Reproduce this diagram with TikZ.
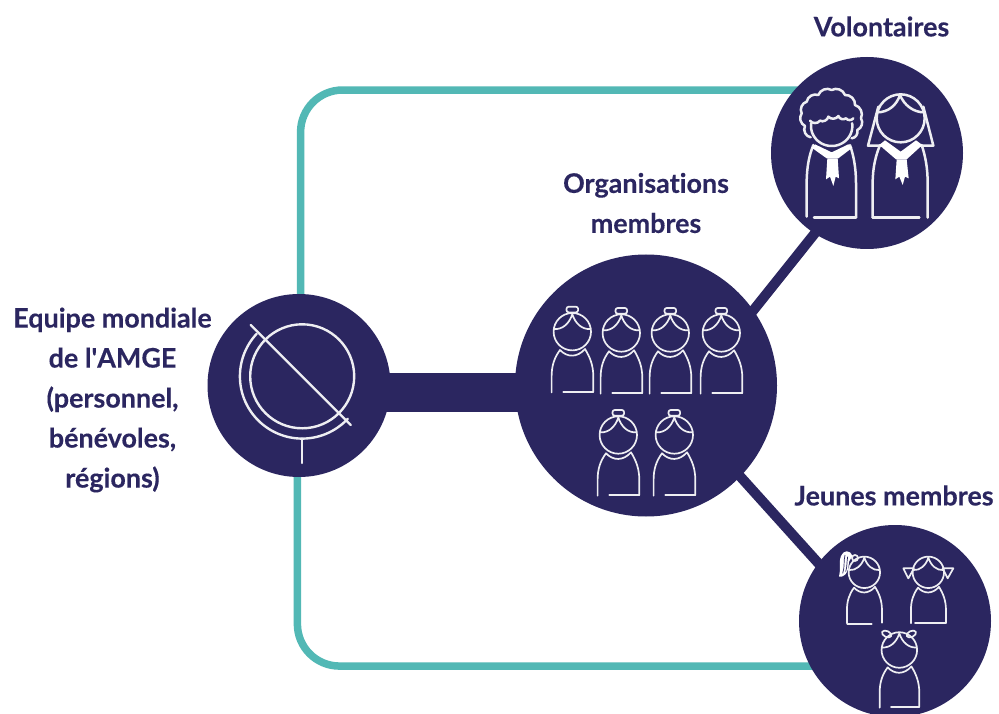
\documentclass[tikz,border=0pt]{standalone}
\usepackage{fontspec}
\setmainfont{Lato}[BoldFont={Lato Bold},BoldFeatures={FakeBold=0.25},Ligatures={NoCommon}]
\definecolor{navy}{HTML}{2B2660}
\definecolor{tealc}{HTML}{52B8B5}
\pgfdeclarelayer{bg}
\pgfsetlayers{bg,main}
\tikzset{
  disc/.style={circle,fill=navy,inner sep=0pt,outer sep=0pt,minimum size=#1},
  label text/.style={text=navy,font=\fontsize{26.9}{40}\selectfont\bfseries,align=center,inner sep=0pt},
  teal line/.style={draw=tealc,line width=7.5pt,rounded corners=42pt},
  navy line/.style={draw=navy,line width=10pt,shorten >=-4pt,shorten <=-4pt},
  bar line/.style={draw=navy,line width=39.6pt},
  icon/.style={draw=white!92!navy,line width=1.7pt,line cap=round,line join=round},
  vicon/.style={icon,line width=2.5pt},
  gicon/.style={icon,line width=2.4pt},
  kid/.pic={
    \draw[icon] (0,0) circle (18.7);
    \draw[icon] (-18,-2.7) .. controls (-10,-2) and (-3,-8) .. (0,-17.5) .. controls (3,-8) and (10,-2) .. (18,-2.7);
    \draw[icon] (-20.7,60.7) -- (-20.7,45) .. controls (-20.7,34) and (-18,26) .. (-12.3,18.3)
      .. controls (-5,26) and (5,26) .. (12.7,17.3) .. controls (18,26) and (21,34) .. (21,45) -- (21,60);
  },
  bunkid/.pic={
    \pic {kid};
    \draw[icon] (21,60) -- (-9,60);
    \draw[icon,rounded corners=2.2pt] (-5.8,-25) rectangle (5.8,-19.3);
  }
}
\begin{document}
\begin{tikzpicture}[x=1pt,y=-1pt]
\useasboundingbox (0,0) rectangle (999,714);

\node[disc=183pt] (globe) at (299,385.5) {};
\node[disc=262pt] (org) at (646,385.5) {};
\node[disc=192pt] (vol) at (867,153) {};
\node[disc=192pt] (jeu) at (895,621) {};

\begin{pgfonlayer}{bg}
\fill[white] (0,0) rectangle (999,714);
\draw[teal line] (globe.89) |- ([xshift=10pt]vol.139);
\draw[teal line] (globe.-91) |- ([xshift=10pt]jeu.208);
\draw[navy line] (org.35) -- (vol.237);
\draw[navy line] (org.-44) -- (jeu.143);
\draw[bar line] ([yshift=-7pt]globe.center) -- ([yshift=-7pt]org.center);
\end{pgfonlayer}

% globe icon
\draw[gicon] (302.2,376.3) circle (52);
\draw[gicon] (250.7,325) -- (350.7,425);
\draw[gicon] plot[domain=43:223,samples=60,smooth] ({302.2+62.3*cos(\x)},{376.3+62.3*sin(\x)});
\draw[gicon] (302,438.6) -- (302,463);

% member organisations
\foreach \px/\py in {572.3/331.7,621.3/333,670.3/333,721.3/333,618.3/435,674.3/435}
  \pic at (\px,\py) {bunkid};

% Volontaires
\begin{scope}[shift={(770,50)},scale=0.33333]
\draw[vicon] plot[domain=-8:188,samples=50,smooth] ({185+62*cos(\x)},{228+60*sin(\x)});
\draw[vicon] (122,262) to[bend left=55] (105,228) to[bend left=50] (95,190) to[bend left=50] (110,155)
  to[bend left=50] (145,135) to[bend left=50] (185,120) to[bend left=50] (225,135) to[bend left=50] (255,165)
  to[bend left=50] (273,205) to[bend left=50] (262,240) to[bend left=50] (245,265);
\draw[vicon] (120,212) to[bend right=55] (150,212) to[bend right=55] (175,200) to[bend right=55] (205,198)
  to[bend right=55] (228,205) to[bend right=55] (250,205);
\draw[vicon] (110,500) -- (110,400) .. controls (110,350) and (118,315) .. (130,285);
\draw[vicon] (258,502) -- (258,400) .. controls (258,350) and (250,315) .. (240,285);
\draw[vicon] (258,502) -- (132,502);
\fill[white] (125,293) -- (135,283) -- (185,307) -- (235,283) -- (247,293) -- (205,325) -- (170,325) -- cycle;
\fill[white] (172,325) -- (203,325) -- (207,385) -- (197,380) -- (190,408) -- (180,380) -- (168,388) -- cycle;
\draw[vicon] (392,205) circle (72);
\draw[vicon] (322,187) .. controls (355,187) and (380,165) .. (390,135) .. controls (402,165) and (430,187) .. (462,187);
\draw[vicon] (325,170) -- (294,287) -- (335,287);
\draw[vicon] (460,170) -- (490,287) -- (450,287);
\draw[vicon] (308,503) -- (308,400) .. controls (308,350) and (318,315) .. (330,285);
\draw[vicon] (473,503) -- (473,400) .. controls (473,350) and (465,315) .. (455,285);
\draw[vicon] (308,503) -- (448,503);
\fill[white] (328,285) -- (345,271) -- (392,305) -- (438,271) -- (457,285) -- (410,328) -- (378,328) -- cycle;
\fill[white] (380,328) -- (410,328) -- (416,385) -- (405,380) -- (398,405) -- (388,380) -- (376,388) -- cycle;
\end{scope}

% Jeunes membres
\begin{scope}[shift={(795,520)},scale=0.33333]
\pic[scale=0.84] at (208,157) {kid};
\draw[icon] (157,312) -- (230,312);
\draw[icon] (180,114) circle (9);
\fill[white] (172,108) .. controls (165,88) and (145,90) .. (138,108) .. controls (130,130) and (138,150) .. (132,170)
  .. controls (145,172) and (160,165) .. (162,125) -- cycle;
\draw[navy,line width=.7pt] (150,105) .. controls (145,125) and (150,140) .. (143,160);
\draw[navy,line width=.7pt] (158,110) .. controls (155,125) and (157,140) .. (152,155);
\pic[scale=0.84] at (400,157) {kid};
\draw[icon] (453,310) -- (360,310);
\draw[icon] (325,145) -- (357,145) -- (340,175) -- cycle;
\draw[icon] (475,145) -- (443,145) -- (458,175) -- cycle;
\pic[scale=0.95] at (313,390) {kid};
\draw[icon] (372,562) -- (288,562);
\draw[icon,rotate around={-25:(275,342)}] (275,342) ellipse (15 and 9);
\draw[icon,rotate around={25:(349,342)}] (349,342) ellipse (15 and 9);
\end{scope}

% labels
\node[label text] (t1) at (881.5,26.5) {Volontaires};
\node[label text] (t2) at (646,203) {Organisations\\membres};
\node[label text] (t3) at (112.5,400) {Equipe mondiale\\de l\textquotesingle AMGE\\(personnel,\\bénévoles,\\régions)};
\node[label text] (t4) at (894,495.5) {Jeunes membres};
\end{tikzpicture}
\end{document}
